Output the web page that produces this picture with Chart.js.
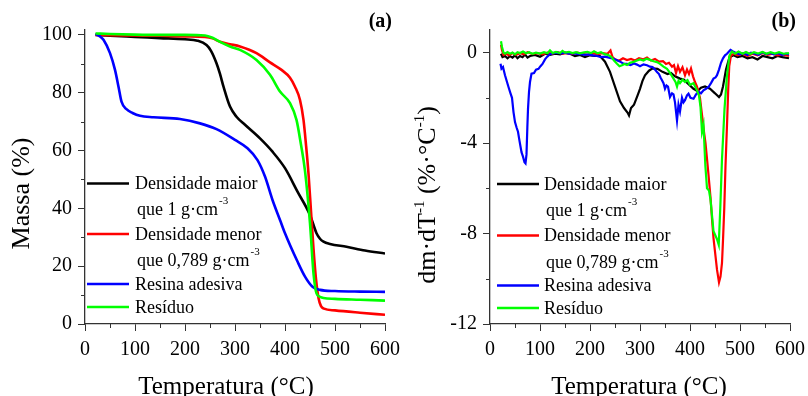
<!DOCTYPE html>
<html>
<head>
<meta charset="utf-8">
<script src="https://cdn.jsdelivr.net/npm/chart.js@4"></script>
<style>
body{margin:0;background:#fff;}
#wrap{position:relative;width:808px;height:396px;}
.panel{position:absolute;top:0;width:404px;height:396px;}
</style>
</head>
<body>
<div id="wrap">
 <div class="panel" style="left:0"><canvas id="tga" width="404" height="396"></canvas></div>
 <div class="panel" style="left:404px"><canvas id="dtg" width="404" height="396"></canvas></div>
</div>
<script>

// legend text + colours (same for both panels)
const seriesNames = ['Densidade maior', 'Densidade menor', 'Resina adesiva', 'Resíduo']
const seriesNotes = ['que 1 g·cm', 'que 0,789 g·cm', '', '']
const seriesColors = ['#000000', '#ff0000', '#0000ff', '#00ff00']

const xTicks = [0, 100, 200, 300, 400, 500, 600]
const xMinor = [50, 150, 250, 350, 450, 550]
const massTicks = [0, 20, 40, 60, 80, 100]
const massMinor = [10, 30, 50, 70, 90]
const dtgTicks = [-12, -8, -4, 0]
const dtgMinor = [-10, -6, -2]

// (a) mass (%) vs temperature (°C)
const blackTga = [[21,100],[50,99.7],[100,99.3],[150,98.9],[200,98.5],[225,98],[243,96.5],[252,94.5],[263,90.2],[270,86.5],[277,82.1],[290,75.2],[303,71.7],[320,68.9],[350,64.2],[375,59.6],[400,53.9],[425,45.8],[450,37.7],[463,31.4],[470,29.5],[477,28.5],[490,27.7],[523,26.7],[560,25.4],[600,24.4]]
const redTga = [[21,100],[50,99.9],[100,99.8],[150,99.7],[200,99.5],[240,99.3],[255,98.8],[270,97.6],[290,96.8],[310,96],[343,93.7],[370,90.5],[393,87.9],[410,85.2],[420,82.1],[430,77.5],[437,70.6],[442,62],[447,52],[452,39],[457,26],[462,15.5],[467,9],[472,6.2],[478,5.3],[500,4.7],[550,3.9],[600,3.2]]
const blueTga = [[21,100.4],[30,99.5],[37,98.3],[50,93.7],[60,87.9],[67,82.1],[73,76.9],[83,74.3],[95,73],[110,72],[137,71.5],[190,70.9],[230,69.4],[263,67.4],[300,63.7],[325,60.8],[345,56.7],[360,51],[375,42.9],[390,36],[400,31.4],[425,21.6],[440,16.4],[455,12.9],[470,11.8],[500,11.4],[550,11.2],[600,11.1]]
const greenTga = [[21,100.5],[50,100.3],[100,100.1],[150,100],[200,100],[240,99.8],[255,99],[270,97.6],[290,96],[310,94.8],[343,91.3],[370,86.2],[390,80.4],[410,76.4],[423,70.6],[432,62],[440,53],[450,34.8],[457,17.5],[463,10.6],[470,9.4],[477,9],[500,8.7],[550,8.4],[600,8.1]]

// (b) dm/dT (%/°C) vs temperature (°C)
const blackDtg = [[22,-0.05],[25,-0.2],[30,-0.15],[35,-0.25],[40,-0.15],[45,-0.22],[50,-0.12],[55,-0.25],[60,-0.15],[65,-0.2],[70,-0.08],[75,-0.22],[80,-0.15],[90,-0.1],[100,-0.18],[110,-0.05],[120,-0.1],[130,-0.05],[140,-0.08],[150,0],[160,-0.05],[170,-0.15],[180,-0.1],[190,-0.2],[200,-0.12],[210,-0.15],[220,-0.15],[230,-0.4],[240,-0.85],[250,-1.5],[260,-2.15],[268,-2.45],[275,-2.65],[278,-2.78],[282,-2.45],[288,-2.3],[295,-1.9],[300,-1.6],[305,-1.25],[310,-1.0],[318,-0.8],[325,-0.7],[335,-0.72],[345,-0.85],[355,-0.95],[362,-0.9],[370,-1.05],[380,-1.15],[388,-1.2],[395,-1.35],[407,-1.6],[415,-1.7],[422,-1.55],[430,-1.5],[440,-1.6],[450,-1.8],[458,-1.97],[462,-1.85],[466,-1.5],[472,-0.75],[479,-0.2],[487,-0.12],[495,-0.2],[505,-0.15],[515,-0.25],[525,-0.2],[535,-0.3],[545,-0.15],[555,-0.2],[565,-0.25],[575,-0.15],[585,-0.2],[598,-0.25]]
const redDtg = [[22,0.35],[24,0.1],[27,-0.1],[32,-0.05],[38,-0.12],[45,-0.02],[52,-0.1],[60,-0.03],[68,-0.08],[75,0.02],[85,-0.06],[95,-0.02],[105,-0.08],[115,0.0],[125,-0.04],[135,0.02],[145,-0.05],[155,-0.02],[165,-0.06],[175,0.0],[185,-0.05],[195,-0.1],[205,-0.03],[215,-0.07],[225,-0.02],[235,-0.05],[241,0.1],[245,-0.2],[250,-0.3],[258,-0.36],[266,-0.25],[274,-0.33],[282,-0.28],[290,-0.35],[298,-0.25],[306,-0.3],[314,-0.22],[322,-0.35],[330,-0.28],[338,-0.4],[346,-0.38],[352,-0.5],[358,-0.45],[364,-0.62],[368,-0.55],[372,-0.9],[376,-0.6],[380,-0.85],[385,-0.65],[390,-1.0],[394,-0.75],[398,-0.95],[402,-0.7],[406,-1.05],[410,-1.3],[414,-1.5],[417,-1.74],[420,-2.0],[424,-2.75],[428,-3.5],[431,-4.0],[434,-4.7],[437,-5.4],[441,-6.4],[444,-7.35],[447,-8.2],[451,-9.0],[454,-9.6],[458,-10.16],[461,-9.9],[464,-9.3],[466,-8.3],[468.5,-6.9],[471,-5.0],[474,-3.2],[476.5,-1.6],[478.5,-0.6],[482,-0.12],[488,-0.05],[495,-0.12],[505,-0.05],[515,-0.15],[525,-0.05],[535,-0.12],[545,-0.02],[555,-0.1],[565,-0.05],[575,-0.12],[585,-0.08],[598,-0.15]]
const blueDtg = [[21,-0.49],[23,-0.71],[26,-0.64],[30,-1.0],[34,-1.3],[37,-1.52],[41,-1.8],[44,-2.0],[47,-2.63],[50,-3.07],[53,-3.3],[56,-3.5],[59,-3.9],[63,-4.4],[66,-4.6],[69,-4.85],[71,-4.9],[73,-4.5],[74.7,-3.3],[76,-2.5],[78,-1.74],[80,-1.3],[83,-0.93],[88,-0.9],[92,-0.75],[97,-0.72],[101,-0.6],[105,-0.5],[110,-0.3],[114,-0.19],[120,-0.07],[127,-0.02],[134,0.0],[142,-0.03],[150,0.0],[158,-0.05],[166,-0.02],[174,-0.06],[182,-0.07],[190,-0.1],[198,-0.08],[206,-0.12],[214,-0.15],[222,-0.2],[230,-0.18],[238,-0.22],[247,-0.27],[255,-0.35],[262,-0.42],[267,-0.49],[274,-0.5],[281,-0.55],[288,-0.48],[294,-0.53],[300,-0.6],[307,-0.52],[314,-0.56],[320,-0.62],[325,-0.64],[330,-0.75],[334,-0.86],[338,-0.95],[341,-1.1],[344,-1.22],[347,-1.35],[350,-1.6],[353,-1.45],[356,-1.5],[360,-1.96],[364,-1.8],[367,-1.85],[370,-2.2],[374,-3.0],[377,-2.3],[380,-2.6],[384,-2.0],[387,-2.2],[390,-2.1],[394,-1.89],[397,-1.82],[401,-2.0],[407,-2.04],[412,-1.85],[417,-1.74],[422,-1.8],[427,-1.67],[432,-1.6],[437,-1.52],[442,-1.35],[447,-1.15],[451,-1.1],[454,-1.0],[458,-0.75],[462,-0.45],[466,-0.25],[470,-0.12],[474,-0.05],[478,0.05],[481,0.12],[486,0.05],[492,-0.02],[500,-0.08],[507,-0.02],[515,-0.1],[522,0.0],[530,-0.05],[537,-0.1],[545,0.02],[552,-0.06],[560,-0.02],[568,-0.08],[576,-0.03],[584,-0.1],[592,-0.05],[598,-0.08]]
const greenDtg = [[22,0.5],[24,0.25],[27,0.0],[30,-0.05],[35,0.02],[40,-0.05],[45,0.0],[50,-0.08],[55,0.02],[60,-0.02],[66,0.05],[72,-0.03],[78,0.02],[85,-0.05],[92,0.0],[100,-0.04],[108,0.02],[115,-0.03],[120,0.1],[125,-0.02],[132,0.03],[140,-0.02],[145,0.08],[150,0.0],[158,0.03],[165,-0.02],[172,0.02],[180,-0.03],[188,0.01],[195,0.03],[202,-0.02],[208,0.06],[215,-0.03],[222,0.02],[230,-0.08],[236,-0.1],[243,-0.2],[248,-0.35],[254,-0.49],[259,-0.6],[264,-0.56],[269,-0.5],[274,-0.55],[280,-0.45],[287,-0.41],[294,-0.35],[300,-0.3],[307,-0.35],[313,-0.27],[320,-0.32],[327,-0.38],[334,-0.42],[340,-0.5],[347,-0.62],[354,-0.72],[360,-0.9],[367,-1.15],[371,-1.3],[374,-1.5],[377,-1.25],[380,-1.35],[385,-1.2],[390,-1.3],[395,-1.22],[400,-1.42],[407,-1.35],[414,-1.67],[418,-1.9],[421,-2.4],[424,-3.5],[427,-3.2],[430.7,-5.0],[434,-6.0],[438,-6.1],[441,-6.5],[444,-7.2],[447,-7.9],[451,-8.1],[454,-8.25],[457.5,-8.5],[460.5,-6.9],[464,-4.7],[469,-2.5],[474,-1.0],[479,-0.12],[484,0.05],[490,-0.05],[497,0.05],[505,-0.05],[512,0.03],[520,-0.06],[528,0.02],[536,-0.04],[545,0.03],[553,-0.05],[561,0.02],[570,-0.04],[578,0.02],[587,-0.05],[598,-0.02]]

const axisColor = '#333'
const serif = '"Liberation Serif", "Times New Roman", serif'

function toXY(arr){
 return arr.map(p => ({x: p[0], y: p[1]}))
}

// small outward minor ticks (chart.js only draws one tick length)
const minorTicks = {
 id: 'minorTicks',
 afterDraw(chart, args, o){
   const {ctx, chartArea, scales} = chart
   ctx.save()
   ctx.strokeStyle = axisColor
   ctx.lineWidth = 1
   ctx.beginPath()
   o.x.forEach(v => {
     let px = Math.round(scales.x.getPixelForValue(v)) + 0.5
     ctx.moveTo(px, chartArea.bottom)
     ctx.lineTo(px, chartArea.bottom + 4)
   })
   o.y.forEach(v => {
     let py = Math.round(scales.y.getPixelForValue(v)) + 0.5
     ctx.moveTo(chartArea.left, py)
     ctx.lineTo(chartArea.left - 4, py)
   })
   ctx.stroke()
   ctx.restore()
 }
}

// legend drawn inside plot, two-line entries with superscript
const boxLegend = {
 id: 'boxLegend',
 afterDraw(chart, args, o){
   const ctx = chart.ctx
   ctx.save()
   ctx.textAlign = 'left'
   ctx.textBaseline = 'middle'
   let row = 0
   seriesNames.forEach((name, i) => {
     let y = o.rows[row]
     ctx.strokeStyle = seriesColors[i]
     ctx.lineWidth = 2.5
     ctx.beginPath()
     ctx.moveTo(o.x0, y - 1)
     ctx.lineTo(o.x1, y - 1)
     ctx.stroke()
     ctx.fillStyle = '#000'
     ctx.font = '18px ' + serif
     ctx.fillText(name, o.tx, y)
     row++
     if(seriesNotes[i]){
       let y2 = o.rows[row]
       ctx.fillText(seriesNotes[i], o.tx + 2, y2)
       let w = ctx.measureText(seriesNotes[i]).width
       ctx.font = '11px ' + serif
       ctx.fillText('-3', o.tx + 3 + w, y2 - 9)
       row++
     }
   })
   ctx.restore()
 }
}

// axis titles + panel tag
const axisTitles = {
 id: 'axisTitles',
 afterDraw(chart, args, o){
   const ctx = chart.ctx
   ctx.save()
   ctx.fillStyle = '#000'
   ctx.font = '25px ' + serif
   ctx.textAlign = 'center'
   ctx.textBaseline = 'alphabetic'
   ctx.fillText('Temperatura (°C)', o.xTitleX, 394)

   ctx.font = 'bold 20px ' + serif
   ctx.textAlign = 'right'
   ctx.textBaseline = 'middle'
   ctx.fillText(o.tag, 392, 22)

   ctx.translate(o.yTitleX, o.yTitleY)
   ctx.rotate(-Math.PI / 2)
   ctx.textAlign = 'left'
   ctx.textBaseline = 'alphabetic'
   let total = 0
   o.yTitle.forEach(p => {
     ctx.font = (p[1] ? '15px ' : '26px ') + serif
     total += ctx.measureText(p[0]).width
   })
   let x = -total / 2
   o.yTitle.forEach(p => {
     ctx.font = (p[1] ? '15px ' : '26px ') + serif
     ctx.fillText(p[0], x, p[1] ? -11 : 0)
     x += ctx.measureText(p[0]).width
   })
   ctx.restore()
 }
}

function makeScales(yMin, yMax, yTicks, yLeft){
 const tickFont = {family: serif, size: 20}
 return {
   x: {
     type: 'linear', min: 0, max: 600,
     afterBuildTicks: s => { s.ticks = xTicks.map(v => ({value: v})) },
     afterFit: s => { s.height = 72; s.paddingLeft = 0; s.paddingRight = 0 },
     grid: {drawOnChartArea: false, drawTicks: true, tickLength: 7, color: axisColor},
     border: {color: axisColor, width: 1.3},
     ticks: {font: tickFont, color: '#000', padding: 7, maxRotation: 0, callback: v => String(v)}
   },
   y: {
     type: 'linear', min: yMin, max: yMax,
     afterBuildTicks: s => { s.ticks = yTicks.map(v => ({value: v})) },
     afterFit: s => { s.width = yLeft; s.paddingTop = 0; s.paddingBottom = 0 },
     grid: {drawOnChartArea: false, drawTicks: true, tickLength: 7, color: axisColor},
     border: {color: axisColor, width: 1.3},
     ticks: {font: tickFont, color: '#000', padding: 6, callback: v => String(v)}
   }
 }
}

function makeSets(list, width, smooth){
 // draw order: black bottom ... green top
 return list.map((d, i) => ({
   label: seriesNames[i],
   data: toXY(d),
   borderColor: seriesColors[i],
   borderWidth: width,
   pointRadius: 0,
   fill: false,
   order: 4 - i,
   cubicInterpolationMode: smooth ? 'monotone' : 'default',
   tension: 0
 }))
}

new Chart(document.getElementById('tga'), {
 type: 'line',
 data: {datasets: makeSets([blackTga, redTga, blueTga, greenTga], 2.6, true)},
 options: {
   responsive: false,
   animation: false,
   layout: {padding: {top: 30, right: 19, left: 0, bottom: 0}},
   scales: makeScales(0, 101.7, massTicks, 85),
   plugins: {
     legend: {display: false},
     tooltip: {enabled: false},
     minorTicks: {x: xMinor, y: massMinor},
     boxLegend: {rows: [184.5, 210.5, 235, 261, 285, 308], x0: 87, x1: 129, tx: 135},
     axisTitles: {tag: '(a)', xTitleX: 226, yTitleX: 29, yTitleY: 193.5, yTitle: [['Massa (%)', false]]}
   }
 },
 plugins: [minorTicks, boxLegend, axisTitles]
})

new Chart(document.getElementById('dtg'), {
 type: 'line',
 data: {datasets: makeSets([blackDtg, redDtg, blueDtg, greenDtg], 2.2, false)},
 options: {
   responsive: false,
   animation: false,
   layout: {padding: {top: 30, right: 18, left: 0, bottom: 0}},
   scales: makeScales(-12, 1, dtgTicks, 86),
   plugins: {
     legend: {display: false},
     tooltip: {enabled: false},
     minorTicks: {x: xMinor, y: dtgMinor},
     boxLegend: {rows: [185, 211.5, 236.5, 263, 286.5, 309], x0: 93, x1: 135, tx: 140},
     axisTitles: {tag: '(b)', xTitleX: 235, yTitleX: 31, yTitleY: 195,
       yTitle: [['dm·dT', false], ['-1', true], [' (%·°C', false], ['-1', true], [')', false]]}
   }
 },
 plugins: [minorTicks, boxLegend, axisTitles]
})
</script>
</body>
</html>
